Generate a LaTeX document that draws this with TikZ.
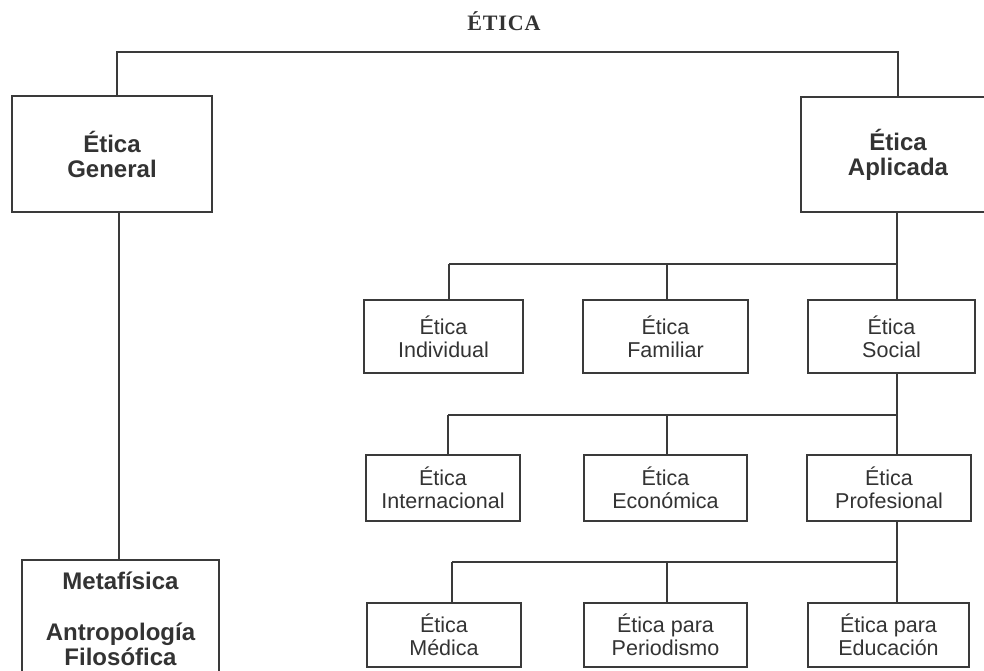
\documentclass[tikz,border=0pt]{standalone}
\usepackage{fontspec}
\setmainfont{Liberation Sans}
\newfontfamily\titlefont[LetterSpace=4,BoldFont={Liberation Serif Bold}]{Liberation Serif}
\definecolor{ink}{HTML}{333333}
\definecolor{linec}{HTML}{3A3A3A}
\begin{document}
\begin{tikzpicture}[x=1pt,y=-1pt,
  bigbox/.style={draw=linec,line width=2pt,align=center,text=ink,
    font=\fontsize{24}{25}\selectfont\bfseries,inner sep=0pt},
  smallbox/.style={draw=linec,line width=2pt,align=center,text=ink,
    font=\fontsize{21.5}{23}\selectfont,inner sep=0pt},
  conn/.style={draw=linec,line width=1.8pt}]
\useasboundingbox (0,0) rectangle (984,671);
\clip (0,0) rectangle (984,671);
\fill[white] (0,0) rectangle (984,671);

\node[text=ink,anchor=base,font=\titlefont\bfseries\fontsize{22}{22}\selectfont] (title) at (504,31) {ÉTICA};

% level 1
\node[bigbox,minimum width=200pt,minimum height=116pt] (gen) at (112,154) {Ética\\General};
\node[bigbox,minimum width=194pt,minimum height=115pt,text width=194pt] (apl) at (898,154.5) {Ética\\Aplicada};
\node[bigbox,minimum width=197pt,minimum height=118pt] (meta) at (120.5,619) {Metafísica\\[26pt]Antropología\\Filosófica};

% row 1
\node[smallbox,minimum width=159pt,minimum height=73pt] (ind) at (443.5,336.5) {Ética\\Individual};
\node[smallbox,minimum width=165pt,minimum height=73pt] (fam) at (665.5,336.5) {Ética\\Familiar};
\node[smallbox,minimum width=167pt,minimum height=73pt] (soc) at (891.5,336.5) {Ética\\Social};
% row 2
\node[smallbox,minimum width=154pt,minimum height=66pt] (int) at (443,488) {Ética\\Internacional};
\node[smallbox,minimum width=163pt,minimum height=66pt] (eco) at (665.5,488) {Ética\\Económica};
\node[smallbox,minimum width=164pt,minimum height=66pt] (pro) at (889,488) {Ética\\Profesional};
% row 3
\node[smallbox,minimum width=154pt,minimum height=64pt] (med) at (444,635) {Ética\\Médica};
\node[smallbox,minimum width=163pt,minimum height=64pt] (per) at (665.5,635) {Ética para\\Periodismo};
\node[smallbox,minimum width=161pt,minimum height=64pt] (edu) at (888.5,635) {Ética para\\Educación};

% top bus
\coordinate (tl) at (117,52);
\coordinate (tr) at (898,52);
\draw[conn] (gen.north -| tl) -- (tl) -- (tr) -- (apl.north -| tr);
% general to metafisica
\coordinate (gm) at (119,400);
\draw[conn] (gen.south -| gm) -- (meta.north -| gm);

% bus 1
\coordinate (a1) at (449,264);
\coordinate (b1) at (667,264);
\coordinate (c1) at (897,264);
\draw[conn] (a1) -- (c1);
\draw[conn] (a1) -- (a1 |- ind.north);
\draw[conn] (b1) -- (b1 |- fam.north);
\draw[conn] (apl.south -| c1) -- (c1 |- soc.north);

% bus 2
\coordinate (a2) at (448,415);
\coordinate (b2) at (667,415);
\coordinate (c2) at (897,415);
\draw[conn] (a2) -- (c2);
\draw[conn] (a2) -- (a2 |- int.north);
\draw[conn] (b2) -- (b2 |- eco.north);
\draw[conn] (soc.south -| c2) -- (c2 |- pro.north);

% bus 3
\coordinate (a3) at (452,562);
\coordinate (b3) at (667,562);
\coordinate (c3) at (897,562);
\draw[conn] (a3) -- (c3);
\draw[conn] (a3) -- (a3 |- med.north);
\draw[conn] (b3) -- (b3 |- per.north);
\draw[conn] (pro.south -| c3) -- (c3 |- edu.north);
\end{tikzpicture}
\end{document}
